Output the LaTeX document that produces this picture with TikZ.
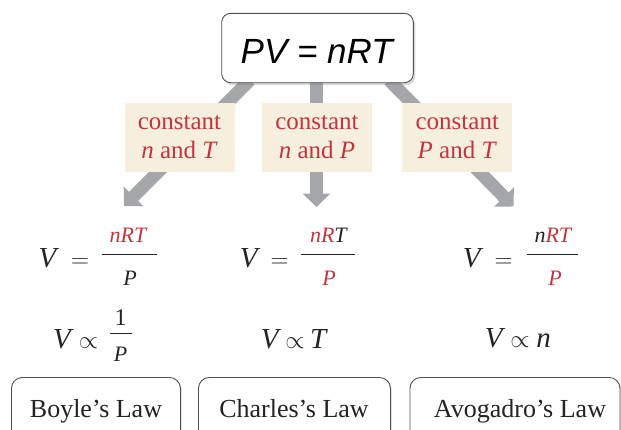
\documentclass[tikz,border=0pt]{standalone}
\usepackage{fontspec}
\setmainfont{Liberation Serif}
\newfontfamily\eqsans{Liberation Sans}
\usetikzlibrary{arrows.meta,shadows}
\definecolor{arrowgray}{RGB}{165,166,170}
\definecolor{labelbg}{RGB}{247,239,221}
\definecolor{redtxt}{RGB}{196,52,62}
\definecolor{boxline}{RGB}{80,80,80}
\definecolor{txt}{RGB}{35,35,35}
\newcommand{\fsz}[1]{\fontsize{#1}{#1}\selectfont}
\newcommand{\rd}[1]{\textcolor{redtxt}{#1}}
\tikzset{
  garrow/.style={draw=arrowgray, line width=13pt, -{Triangle[width=27pt,length=13.5pt]}},
  lblbox/.style={fill=labelbg, draw=none, minimum width=110pt, minimum height=68.5pt, inner sep=0pt},
  lbltxt/.style={anchor=base, inner sep=0pt, font=\fsz{25}, text=redtxt},
  topbox/.style={fill=white, draw=boxline, line width=0.9pt, rounded corners=9pt,
    minimum width=191.6pt, minimum height=69.4pt, inner sep=0pt,
    drop shadow={opacity=0.3, shadow xshift=2pt, shadow yshift=-2.5pt}},
  lawbox/.style={fill=white, draw=boxline, line width=0.9pt, rounded corners=11pt,
    minimum height=70pt, inner sep=0pt, anchor=north west,
    drop shadow={opacity=0.25, shadow xshift=1.5pt, shadow yshift=-1.5pt}},
  lawtxt/.style={anchor=base, inner sep=0pt, font=\fsz{26}, text=txt},
  eqv/.style={anchor=base, inner sep=0pt, font=\fsz{29}, text=txt},
  eqrel/.style={anchor=base, inner sep=0pt, font=\fsz{26}, text=txt},
  eqprop/.style={anchor=base, inner sep=0pt, font=\fsz{27}, text=txt},
  eqsmall/.style={anchor=base, inner sep=0pt, font=\fsz{22}, text=txt},
  fbar/.style={draw=txt, line width=1.3pt},
}
\begin{document}
\begin{tikzpicture}[x=1pt,y=-1pt]
\useasboundingbox (0,0) rectangle (621,429);
\clip (0,0) rectangle (621,429);

% arrow end points
\coordinate (sL) at (250,80);
\coordinate (tL) at (124,206);
\coordinate (sM) at (316.5,80);
\coordinate (tM) at (316.5,207);
\coordinate (sR) at (389,80);
\coordinate (tR) at (513.5,206.5);

\draw[garrow] (sL) -- (tL);
\draw[garrow] (sM) -- (tM);
\draw[garrow] (sR) -- (tR);

% label boxes
\node[lblbox] (lb1) at (179.5,137.5) {};
\node[lblbox] (lb2) at (317,137.5) {};
\node[lblbox] (lb3) at (457.3,137.5) {};
\node[lbltxt] (lb1a) at (179.5,129) {constant};
\node[lbltxt] (lb1b) at (179.5,158.5) {\textit{n} and \textit{T}};
\node[lbltxt] (lb2a) at (317,129) {constant};
\node[lbltxt] (lb2b) at (317,158.5) {\textit{n} and \textit{P}};
\node[lbltxt] (lb3a) at (457.3,129) {constant};
\node[lbltxt] (lb3b) at (457.3,158.5) {\textit{P} and \textit{T}};

% top box
\node[topbox] (top) at (317.5,48) {};
\node[anchor=base, inner sep=0pt, font={\eqsans\itshape\fsz{35}}, text=black] (toptxt) at (316.7,63.3) {PV = nRT};

% equations row 1
\node[eqv] (v1) at (49,267) {\textit{V}};
\node[eqrel] (e1) at (80,267) {$=$};
\node[eqsmall] (n1) at (128.7,242) {\rd{\textit{nRT}}};
\node[eqsmall] (d1) at (130,285) {\textit{P}};
\draw[fbar] (101.7,254.3) -- (156.7,254.3);

\node[eqv] (v2) at (250,267) {\textit{V}};
\node[eqrel] (e2) at (279.5,267) {$=$};
\node[eqsmall] (n2) at (329,242) {\rd{\textit{nR}}\textit{T}};
\node[eqsmall] (d2) at (329,285) {\rd{\textit{P}}};
\draw[fbar] (300.7,254.3) -- (355,254.3);

\node[eqv] (v3) at (473,267) {\textit{V}};
\node[eqrel] (e3) at (503.5,267) {$=$};
\node[eqsmall] (n3) at (553.5,242) {\textit{n}\rd{\textit{RT}}};
\node[eqsmall] (d3) at (555,285) {\rd{\textit{P}}};
\draw[fbar] (526.7,254.3) -- (578,254.3);

% equations row 2
\node[eqv] (pv1) at (63.3,348) {\textit{V}};
\node[eqprop] (pp1) at (88.5,348) {$\propto$};
\node[eqsmall, font=\fsz{24}] (pn1) at (120.5,325) {1};
\node[eqsmall] (pd1) at (120.5,361) {\textit{P}};
\draw[fbar] (110,333.3) -- (131.7,333.3);

\node[eqv] (pv2) at (271,348) {\textit{V}};
\node[eqprop] (pp2) at (295,348) {$\propto$};
\node[eqv] (pt2) at (319,348) {\textit{T}};

\node[eqv] (pv3) at (495,347) {\textit{V}};
\node[eqprop] (pp3) at (520,347) {$\propto$};
\node[eqv] (pt3) at (543.5,347) {\textit{n}};

% law boxes
\node[lawbox, minimum width=169pt] (b1) at (11,377) {};
\node[lawbox, minimum width=192pt] (b2) at (198,377) {};
\node[lawbox, minimum width=210pt] (b3) at (409.5,377) {};
\node[lawtxt] (b1t) at (96,417) {Boyle’s Law};
\node[lawtxt] (b2t) at (294,417) {Charles’s Law};
\node[lawtxt] (b3t) at (520,417) {Avogadro’s Law};
\end{tikzpicture}
\end{document}
